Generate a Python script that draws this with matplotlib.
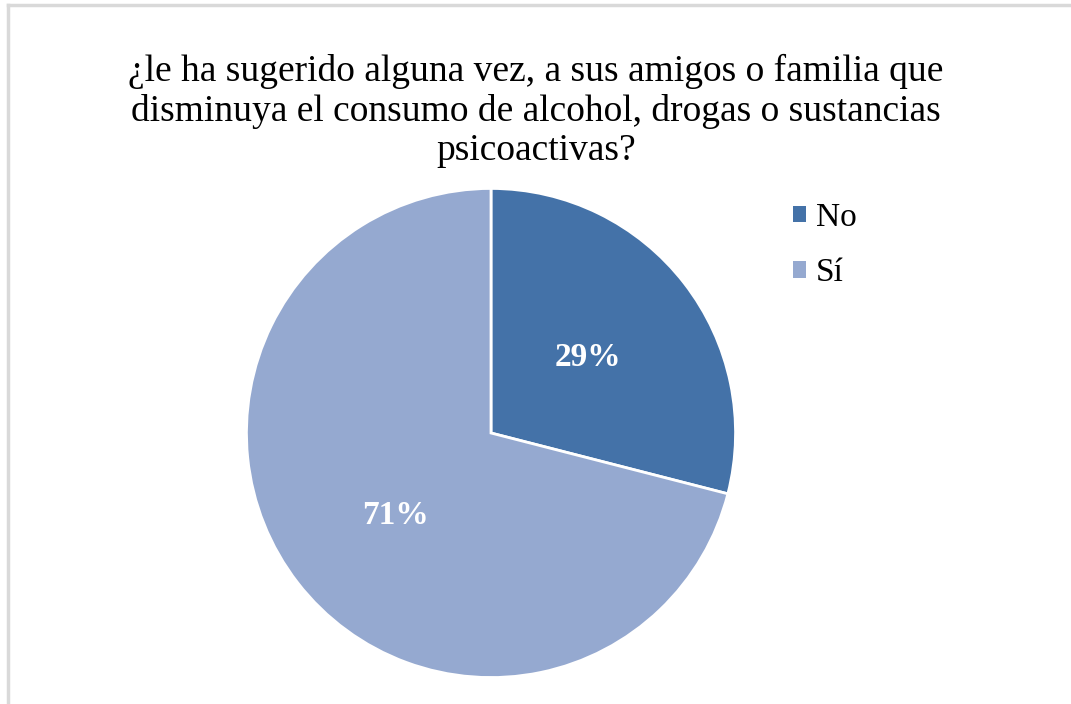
import matplotlib
matplotlib.use("Agg")
import matplotlib.pyplot as plt
from matplotlib.patches import Rectangle
from matplotlib.lines import Line2D

categories = ["No", "Sí"]
values = [29, 71]
labels_pct = ["29%", "71%"]
colors = ["#4472A8", "#95A9D0"]
title = "¿le ha sugerido alguna vez, a sus amigos o familia que\ndisminuya el consumo de alcohol, drogas o sustancias\npsicoactivas?"

plt.rcParams['font.family'] = ['Liberation Serif', 'DejaVu Serif']

W, H = 1071, 704
fig = plt.figure(figsize=(W/100, H/100), dpi=100)

# border
fig.add_artist(Line2D([8/W, 8/W], [0, 1 - 5/H], color="#D9D9D9", lw=2.5, transform=fig.transFigure))
fig.add_artist(Line2D([8/W, 1], [1 - 5/H, 1 - 5/H], color="#D9D9D9", lw=2.5, transform=fig.transFigure))

cx, cy, r = 491, 433, 247
ax = fig.add_axes([(cx - r)/W, (H - cy - r)/H, 2*r/W, 2*r/H])
wedges, _ = ax.pie(values, colors=colors, startangle=90, counterclock=False,
                   radius=1, wedgeprops=dict(edgecolor="white", linewidth=2))
ax.set_xlim(-1.01, 1.01)
ax.set_ylim(-1.01, 1.01)
ax.set_aspect('equal')
ax.axis('off')

# percentage labels
label_pos = [(588, 358), (395, 515)]
for (px, py), t in zip(label_pos, labels_pct):
    fig.text(px/W, 1 - py/H, t, color="white", fontsize=24, fontweight="bold",
             ha="center", va="center")

fig.text(536/W, 1 - 111/H, title, ha="center", va="center", fontsize=27,
         linespacing=1.18, color="black")

handles = [Rectangle((0, 0), 1, 1, facecolor=c, edgecolor="none") for c in colors]
leg = fig.legend(handles, categories, loc="upper left", bbox_to_anchor=(780/W, 1 - 189/H),
                 frameon=False, fontsize=24, handlelength=0.38, handleheight=0.38,
                 handletextpad=0.3, labelspacing=0.75, borderaxespad=0, borderpad=0.4)

fig.savefig("out.png", dpi=100)
